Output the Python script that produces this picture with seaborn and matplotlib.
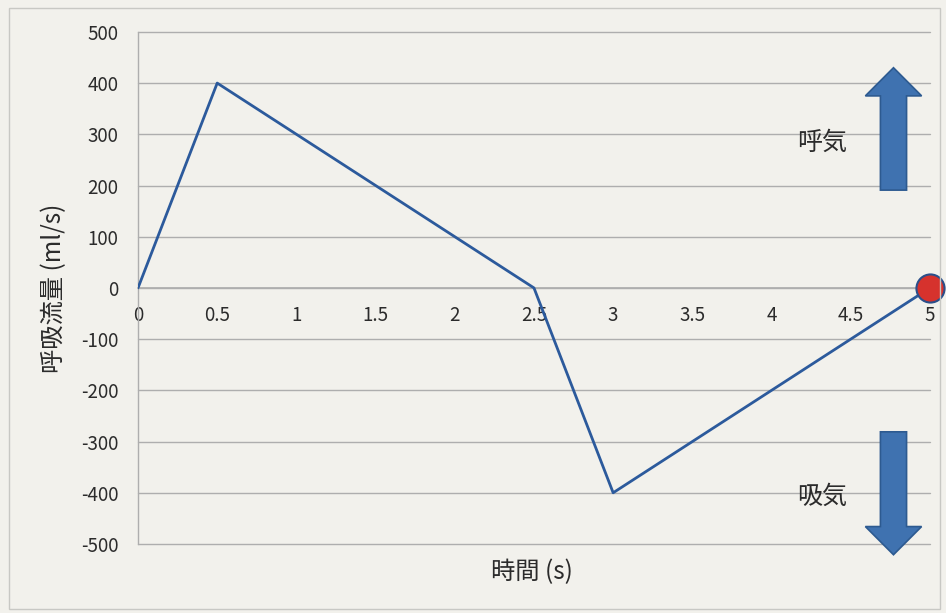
import matplotlib
matplotlib.use("Agg")
import matplotlib.pyplot as plt
from matplotlib.patches import FancyArrow, Rectangle
import seaborn as sns
import pandas as pd

# Respiratory flow over one breathing cycle
time_s = [0, 0.5, 2.5, 3, 5]
flow_ml_s = [0, 400, 0, -400, 0]
marker_time = [5]
marker_flow = [0]
x_ticks = [0, 0.5, 1, 1.5, 2, 2.5, 3, 3.5, 4, 4.5, 5]
x_tick_labels = ["0", "0.5", "1", "1.5", "2", "2.5", "3", "3.5", "4", "4.5", "5"]
y_ticks = [-500, -400, -300, -200, -100, 0, 100, 200, 300, 400, 500]

sns.set_theme(style="white")
plt.rcParams["font.family"] = ["Noto Sans CJK JP", "DejaVu Sans"]

bg = "#f2f1ec"
text_col = "#2b2b2b"
grid_col = "#aeaeae"
line_col = "#2c5a9c"

fig = plt.figure(figsize=(9.46, 6.13), dpi=100, facecolor=bg)
fig.patches.append(Rectangle((0.009, 0.006), 0.985, 0.981, transform=fig.transFigure,
                             fill=False, edgecolor="#c8c8c4", linewidth=1.0))
ax = fig.add_axes([0.1459, 0.1126, 0.8371, 0.8354])
ax.set_facecolor(bg)

# x axis crosses at zero flow
for s in ["top", "right"]:
    ax.spines[s].set_visible(False)
ax.spines["bottom"].set_position(("data", 0))
ax.spines["bottom"].set_color(grid_col)
ax.spines["left"].set_color(grid_col)
ax.spines["left"].set_linewidth(1.0)

df = pd.DataFrame({"t": time_s, "q": flow_ml_s})
sns.lineplot(data=df, x="t", y="q", ax=ax, color=line_col, linewidth=2.0,
             sort=False, zorder=3)
ax.scatter(marker_time, marker_flow, s=410, color="#d6322d", edgecolor="#2c4f8a",
           linewidth=1.5, zorder=5, clip_on=False)

ax.set_xlim(0, 5)
ax.set_ylim(-500, 500)
ax.set_yticks(y_ticks)
ax.set_yticklabels([str(v) for v in y_ticks], fontsize=13.5, color=text_col)
ax.set_xticks(x_ticks)
ax.set_xticklabels(x_tick_labels, fontsize=13.5, color=text_col)
ax.tick_params(axis="x", length=0, pad=12)
ax.tick_params(axis="y", length=0, pad=14)

for v in y_ticks:
    ax.axhline(v, color=grid_col, linewidth=1.0, zorder=1, clip_on=False)

ax.set_xlabel("")
ax.set_ylabel("")
fig.text(54 / 946, 1 - 288 / 613, "呼吸流量 (ml/s)", fontsize=17.5, color=text_col,
         rotation=90, ha="center", va="center")
fig.text(532 / 946, 1 - 572 / 613, "時間 (s)", fontsize=17.5, color=text_col,
         ha="center", va="center")

# Direction arrows for exhalation / inhalation
arrow_fc = "#3f72b0"
arrow_ec = "#2d5a90"
ax.add_patch(FancyArrow(4.77, 191, 0, 239, width=0.165, head_width=0.355,
                        head_length=55, length_includes_head=True,
                        facecolor=arrow_fc, edgecolor=arrow_ec, linewidth=1.2,
                        clip_on=False, zorder=4))
ax.add_patch(FancyArrow(4.77, -281, 0, -240, width=0.165, head_width=0.355,
                        head_length=55, length_includes_head=True,
                        facecolor=arrow_fc, edgecolor=arrow_ec, linewidth=1.2,
                        clip_on=False, zorder=4))
ax.text(4.318, 283, "呼気", fontsize=18, color=text_col, ha="center", va="center")
ax.text(4.318, -408, "吸気", fontsize=18, color=text_col, ha="center", va="center")

fig.savefig("out.png", dpi=100, facecolor=bg)
